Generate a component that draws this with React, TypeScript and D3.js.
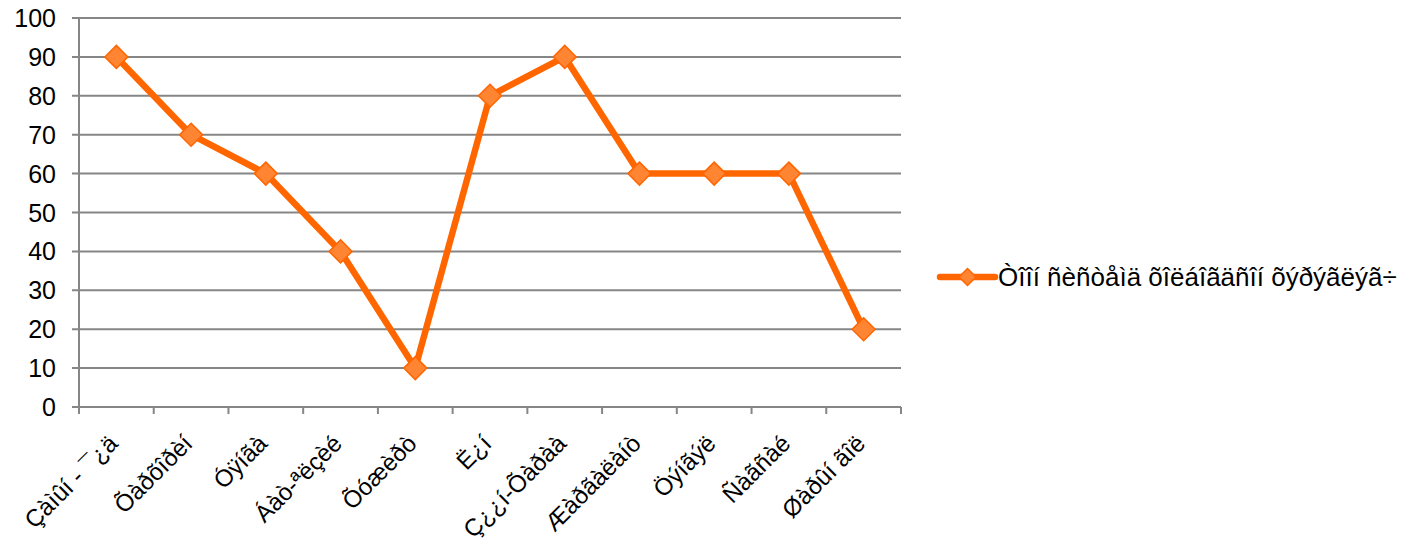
import React from "react";
import * as d3 from "d3";

const categories = [
  "Çàìûí - ¯¿ä",
  "Õàðõîðèí",
  "Óÿíãà",
  "Áàò-ªëçèé",
  "Õóæèðò",
  "Ë¿í",
  "Ç¿¿í-Õàðàà",
  "Æàðãàëàíò",
  "Öýíãýë",
  "Ñàãñàé",
  "Øàðûí ãîë",
];
const values = [90, 70, 60, 40, 10, 80, 90, 60, 60, 60, 20];
const yTicks = [0, 10, 20, 30, 40, 50, 60, 70, 80, 90, 100];
const seriesName = "Òîîí ñèñòåìä õîëáîãäñîí õýðýãëýã÷";

const W = 1414;
const H = 546;
const left = 79;
const right = 901;
const top = 18;
const bottom = 407;
const grid = "#868686";
const lineColor = "#FF6600";
const markerFill = "#FF8533";
const font = "'Liberation Sans', Arial, sans-serif";

export default function App() {
  const x = d3.scaleBand<string>().domain(categories).range([left, right]);
  const y = d3.scaleLinear().domain([0, 100]).range([bottom, top]);
  const cx = (c: string) => (x(c) as number) + x.bandwidth() / 2;
  const line = d3
    .line<number>()
    .x((_, i) => cx(categories[i]))
    .y((d) => y(d));
  const diamond = (px: number, py: number, r: number) =>
    `M${px},${py - r}L${px + r},${py}L${px},${py + r}L${px - r},${py}Z`;
  const bounds = [...categories.map((c) => x(c) as number), right];

  return (
    <svg
      width={W}
      height={H}
      style={{ position: "absolute", left: 0, top: 0, background: "#fff" }}
      fontFamily={font}
    >
      {yTicks.map((t) => (
        <g key={t}>
          <line x1={left - 7} x2={right} y1={y(t)} y2={y(t)} stroke={grid} strokeWidth={2} />
          <text x={56} y={y(t)} dy="0.36em" textAnchor="end" fontSize={25} fill="#000">
            {t}
          </text>
        </g>
      ))}
      <line x1={left} x2={left} y1={top} y2={bottom} stroke={grid} strokeWidth={2} />
      {bounds.map((b, i) => (
        <line key={i} x1={b} x2={b} y1={bottom} y2={bottom + 7} stroke={grid} strokeWidth={2} />
      ))}
      {categories.map((c) => (
        <text
          key={c}
          transform={`translate(${cx(c) - 3},${bottom + 32}) rotate(-45)`}
          textAnchor="end"
          dy="0.35em"
          fontSize={24}
          fill="#000"
        >
          {c}
        </text>
      ))}
      <path d={line(values) || ""} fill="none" stroke={lineColor} strokeWidth={6.5} strokeLinejoin="round" />
      {values.map((v, i) => (
        <path
          key={i}
          d={diamond(cx(categories[i]), y(v), 11.5)}
          fill={markerFill}
          stroke={lineColor}
          strokeWidth={1.5}
        />
      ))}
      <g>
        <line x1={940} x2={995} y1={277} y2={277} stroke={lineColor} strokeWidth={6.5} strokeLinecap="round" />
        <path d={diamond(967.5, 277, 8.5)} fill={markerFill} stroke={lineColor} strokeWidth={1.5} />
        <text x={998} y={277} dy="0.36em" fontSize={26} fill="#000">
          {seriesName}
        </text>
      </g>
    </svg>
  );
}
